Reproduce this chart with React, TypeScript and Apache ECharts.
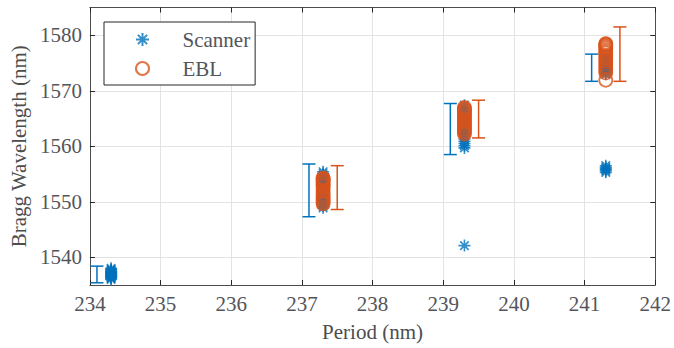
import React, { useEffect, useRef } from "react";
import * as echarts from "echarts";

const PERIODS = [234.3, 237.3, 239.3, 241.3];

const SCANNER_VALUES = [
  [1536.0, 1536.2, 1536.3, 1536.4, 1536.5, 1536.6, 1536.7, 1536.8, 1536.9, 1537.0, 1537.1, 1537.2, 1537.3, 1537.4, 1537.5, 1537.7, 1537.8, 1538.0],
  [1548.9, 1549.2, 1549.5, 1549.8, 1550.1, 1550.4, 1550.6, 1550.7, 1550.8, 1550.9, 1551.2, 1551.8, 1552.5, 1553.0, 1553.2, 1553.4, 1553.5, 1553.7, 1554.0, 1554.4, 1554.8, 1555.1, 1555.4],
  [1542.1, 1559.7, 1560.1, 1560.5, 1560.9, 1561.3, 1561.8, 1562.1, 1562.3, 1562.5, 1563.0, 1563.6, 1564.2, 1564.8, 1565.3, 1565.9, 1566.4, 1566.9, 1567.4],
  [1555.3, 1555.6, 1555.8, 1556.0, 1556.2, 1556.5, 1573.0, 1573.3, 1573.6, 1573.9, 1574.3, 1574.7, 1575.2, 1575.7, 1576.2],
];

const EBL_VALUES = [
  [],
  [1549.6, 1549.9, 1550.2, 1550.5, 1550.8, 1551.1, 1551.4, 1551.8, 1552.2, 1552.6, 1552.9, 1553.1, 1553.4, 1553.6, 1553.8, 1554.0, 1554.2, 1554.3],
  [1562.2, 1562.5, 1562.8, 1563.1, 1563.4, 1563.7, 1564.0, 1564.3, 1564.6, 1564.9, 1565.2, 1565.5, 1565.8, 1566.1, 1566.3, 1566.6, 1566.8, 1567.0],
  [1571.9, 1573.2, 1573.6, 1574.0, 1574.4, 1574.8, 1575.2, 1575.6, 1576.0, 1576.4, 1576.8, 1577.1, 1577.4, 1577.7, 1578.0, 1578.2, 1578.4, 1578.5],
];

const SCANNER_BAR_X = [234.1, 237.1, 239.1, 241.1];
const SCANNER_BAR_LOW = [1535.4, 1547.3, 1558.5, 1571.7];
const SCANNER_BAR_HIGH = [1538.4, 1556.8, 1567.7, 1576.6];

const EBL_BAR_X = [237.5, 239.5, 241.5];
const EBL_BAR_LOW = [1548.6, 1561.5, 1571.7];
const EBL_BAR_HIGH = [1556.5, 1568.3, 1581.5];

const Y_TICKS = [1540, 1550, 1560, 1570, 1580];

const BLUE = "#0072BD";
const ORANGE = "#D95319";
const STAR = "path://M6 0L6 12M0 6L12 6M1.76 1.76L10.24 10.24M1.76 10.24L10.24 1.76";

function pointsFor(values: number[][]) {
  const out: number[][] = [];
  values.forEach((vals, i) => vals.forEach((v) => out.push([PERIODS[i], v])));
  return out;
}

function barsFor(xs: number[], lows: number[], highs: number[]) {
  return xs.map((x, i) => [x, lows[i], highs[i]]);
}

function errorBarRender(color: string) {
  return (params: any, api: any) => {
    const x = api.value(0);
    const lo = api.coord([x, api.value(1)]);
    const hi = api.coord([x, api.value(2)]);
    const hw = 6.5;
    const st = { stroke: color, lineWidth: 1.5, fill: "none" };
    return {
      type: "group",
      children: [
        { type: "line", shape: { x1: lo[0], y1: lo[1], x2: hi[0], y2: hi[1] }, style: st },
        { type: "line", shape: { x1: lo[0] - hw, y1: lo[1], x2: lo[0] + hw, y2: lo[1] }, style: st },
        { type: "line", shape: { x1: hi[0] - hw, y1: hi[1], x2: hi[0] + hw, y2: hi[1] }, style: st },
      ],
    };
  };
}

export default function App() {
  const ref = useRef<HTMLDivElement>(null);
  useEffect(() => {
    document.body.style.margin = "0";
    if (!ref.current) return;
    const chart = echarts.init(ref.current, undefined, { renderer: "svg" });
    const axisLine = { show: true, lineStyle: { color: "#4d4d4d", width: 1 } };
    const tick = { show: true, inside: true, length: 5, lineStyle: { color: "#262626" } };
    const plain = (v: number) => String(v);
    chart.setOption({
      animation: false,
      backgroundColor: "#ffffff",
      grid: { left: 87, right: 15.5, top: 7.5, bottom: 63, containLabel: false },
      legend: {
        data: ["Scanner", "EBL"],
        orient: "vertical",
        left: 104,
        top: 22,
        itemWidth: 70,
        itemHeight: 13,
        itemGap: 8,
        padding: [7, 5, 6, 31],
        backgroundColor: "#ffffff",
        borderColor: "#262626",
        borderWidth: 1,
        borderRadius: 0,
        textStyle: { fontFamily: "Liberation Serif", fontSize: 21 },
      },
      xAxis: [
        {
          type: "value",
          min: 234,
          max: 242,
          interval: 1,
          position: "bottom",
          axisLine,
          axisTick: tick,
          axisLabel: { fontFamily: "Liberation Serif", fontSize: 21 },
          splitLine: { show: true, lineStyle: { color: "#e3e3e3", width: 1 } },
          name: "Period (nm)",
          nameLocation: "middle",
          nameGap: 36,
          nameTextStyle: { fontFamily: "Liberation Serif", fontSize: 21 },
        },
        {
          type: "value",
          min: 234,
          max: 242,
          interval: 1,
          position: "top",
          axisLine,
          axisTick: tick,
          axisLabel: { show: false },
          splitLine: { show: false },
        },
      ],
      yAxis: [
        {
          type: "value",
          min: 1535,
          max: 1585,
          position: "left",
          axisLine,
          axisTick: { ...tick, customValues: Y_TICKS },
          axisLabel: { fontFamily: "Liberation Serif", fontSize: 21, customValues: Y_TICKS, formatter: plain },
          splitLine: { show: true, lineStyle: { color: "#e3e3e3", width: 1 } },
          name: "Bragg Wavelength (nm)",
          nameLocation: "middle",
          nameGap: 58,
          nameTextStyle: { fontFamily: "Liberation Serif", fontSize: 21 },
        },
        {
          type: "value",
          min: 1535,
          max: 1585,
          position: "right",
          axisLine,
          axisTick: { ...tick, customValues: Y_TICKS },
          axisLabel: { show: false, customValues: Y_TICKS },
          splitLine: { show: false },
        },
      ],
      series: [
        {
          name: "Scanner",
          type: "scatter",
          symbol: STAR,
          symbolSize: 12,
          itemStyle: { color: BLUE, borderColor: BLUE, borderWidth: 1.6 },
          data: pointsFor(SCANNER_VALUES),
          z: 2,
        },
        {
          name: "EBL",
          type: "scatter",
          symbol: "circle",
          symbolSize: 13,
          itemStyle: { color: "rgba(0,0,0,0)", borderColor: ORANGE, borderWidth: 1.7 },
          data: pointsFor(EBL_VALUES),
          z: 3,
        },
        {
          name: "Scanner bars",
          type: "custom",
          renderItem: errorBarRender(BLUE),
          data: barsFor(SCANNER_BAR_X, SCANNER_BAR_LOW, SCANNER_BAR_HIGH),
          encode: { x: 0, y: [1, 2] },
          clip: false,
          z: 4,
        },
        {
          name: "EBL bars",
          type: "custom",
          renderItem: errorBarRender(ORANGE),
          data: barsFor(EBL_BAR_X, EBL_BAR_LOW, EBL_BAR_HIGH),
          encode: { x: 0, y: [1, 2] },
          clip: false,
          z: 4,
        },
      ],
    });
    return () => chart.dispose();
  }, []);
  return <div ref={ref} style={{ width: 674, height: 348 }} />;
}
